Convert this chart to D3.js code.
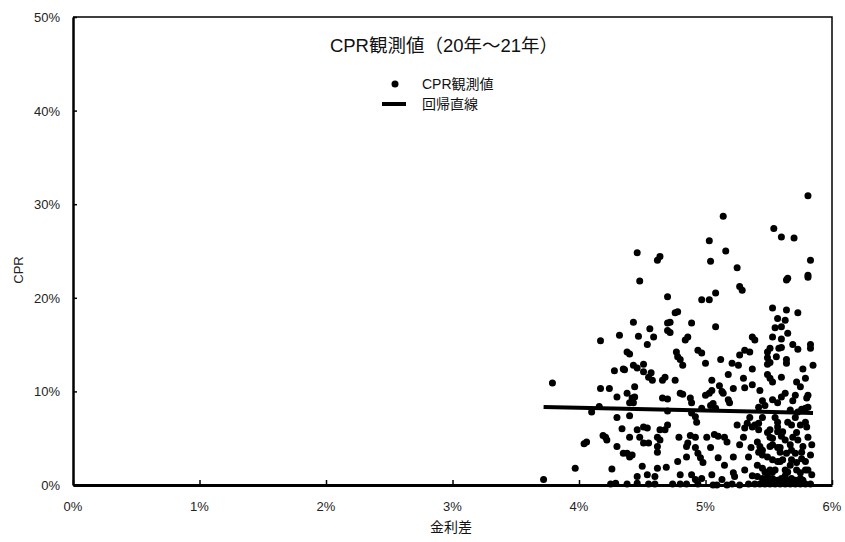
<!DOCTYPE html>
<html>
<head>
<meta charset="utf-8">
<script src="https://cdn.jsdelivr.net/npm/d3@7"></script>
<style>
  html, body { margin: 0; padding: 0; background: #fff; }
  svg { display: block; }
  .tick-label { font-family: "Liberation Sans", Arial, sans-serif; font-size: 13px; fill: #222; }
  .jp { font-family: "Liberation Sans", "Noto Sans CJK JP", "Noto Sans", sans-serif; fill: #111; }
</style>
</head>
<body>
<script>
// Rate spread (%) and observed CPR (%) per loan pool, 2020–2021
const spread = [
  3.72,3.79,3.97,4.04,4.06,4.10,4.16,4.17,4.24,4.17,
  4.32,4.28,4.35,4.30,4.30,4.34,4.19,4.21,4.22,4.30,4.35,4.26,4.25,4.29,
  4.46,4.62,4.64,4.48,4.70,4.76,4.78,4.70,4.72,4.89,4.43,4.70,4.72,4.47,4.56,4.59,
  4.54,4.84,4.86,4.38,4.40,4.77,4.78,4.80,4.82,4.43,4.46,4.51,4.36,4.51,4.57,4.58,
  4.55,4.66,4.68,4.76,4.44,4.38,4.42,4.44,4.66,4.70,4.80,4.82,4.88,4.40,4.43,4.70,
  4.89,4.40,4.46,4.51,4.54,4.70,4.68,4.64,4.40,4.48,4.51,4.55,4.62,4.64,4.79,4.88,
  4.86,4.85,4.62,4.62,4.38,4.40,4.42,4.78,4.85,4.50,4.62,4.69,4.46,4.54,4.60,4.80,
  4.89,4.38,4.46,4.55,4.60,4.74,4.80,4.85,
  5.14,5.03,5.16,5.04,5.25,5.27,5.29,5.08,4.97,5.03,5.08,5.37,5.39,4.94,4.97,5.31,
  5.35,5.00,5.12,5.27,5.21,5.26,5.37,5.18,5.30,5.05,5.37,5.31,5.11,5.13,5.14,5.22,
  5.05,5.03,5.00,5.18,5.19,4.89,4.97,5.04,5.06,5.08,4.92,4.93,5.35,5.33,5.31,4.92,
  5.01,5.07,5.10,5.15,5.17,5.30,4.92,4.94,4.96,4.98,5.10,5.22,5.34,5.05,4.92,4.97,
  5.22,5.23,5.13,5.37,5.41,4.94,5.06,5.09,5.17,5.21,5.27,5.34,5.39,
  5.81,5.54,5.60,5.70,5.83,5.64,5.65,5.81,5.81,5.53,5.64,5.57,5.63,5.73,5.55,5.60,
  5.65,5.53,5.60,5.51,5.49,5.58,5.60,5.69,5.73,5.83,5.83,5.49,5.51,5.49,5.56,5.64,
  5.64,5.85,5.77,5.49,5.51,5.53,5.60,5.79,5.72,5.75,5.63,5.60,5.81,5.80,5.45,5.47,
  5.42,5.53,5.57,5.69,5.73,5.76,5.79,5.81,5.45,5.42,5.39,5.55,5.57,5.57,5.65,5.68,
  5.71,5.79,5.80,5.49,5.51,5.53,5.61,5.60,5.72,5.69,5.41,5.43,5.45,5.42,5.53,5.57,
  5.59,5.67,5.68,5.71,5.77,5.76,5.84,5.49,5.53,5.59,5.68,5.76,5.79,5.45,5.47,5.51,
  5.53,5.55,5.63,5.65,5.72,5.75,5.79,5.81,5.45,5.49,5.53,5.57,5.60,5.64,5.68,5.71,
  5.75,5.77,5.43,5.47,5.51,5.55,5.59,5.63,5.67,5.71,5.75,5.79,5.83,
  5.51,5.57,5.63,5.59,5.51,5.64,5.61,5.57,5.45,5.36,5.37,5.42,5.73,5.81,5.83,5.72,
  5.63,5.67,5.84,5.49,5.41,5.31,5.27,5.25,5.43,5.71,5.75,5.67,5.04,5.15
];
const cpr = [
  0.6,10.9,1.8,4.4,4.6,7.8,8.4,10.3,10.3,15.4,
  16.0,12.2,12.4,9.4,7.2,6.0,5.3,5.1,4.8,4.1,3.4,1.7,0.1,0.2,
  24.8,24.0,24.4,21.8,20.1,18.4,18.5,17.3,17.4,17.3,17.4,16.5,16.3,15.9,16.7,15.8,
  15.0,15.5,15.8,14.2,14.0,14.2,13.7,13.4,12.8,12.8,12.5,12.9,12.3,12.1,12.0,11.2,
  11.5,11.2,11.5,11.2,10.5,9.8,9.3,9.4,9.3,9.2,9.8,9.7,9.3,8.8,8.8,7.9,
  7.7,7.4,5.9,6.2,6.1,6.4,5.9,5.9,5.1,5.1,4.5,4.5,5.1,4.8,5.1,5.3,
  4.5,4.1,4.1,3.5,3.4,3.0,3.2,2.5,3.0,2.0,1.8,1.9,0.9,1.1,0.9,1.1,
  1.1,0.1,0.2,0.1,0.1,0.1,0.1,0.1,
  28.7,26.1,25.0,23.9,23.2,21.2,20.8,20.5,19.8,19.8,16.9,15.8,15.5,14.4,14.1,14.4,
  14.2,13.0,13.4,13.9,13.0,12.8,12.4,11.8,11.4,11.2,10.7,10.4,10.6,10.0,9.8,10.3,
  10.1,9.8,9.6,9.1,8.8,8.8,8.2,8.5,8.7,8.2,7.3,6.7,7.2,6.6,6.1,5.1,
  5.1,5.4,5.2,5.1,4.6,5.1,4.0,3.4,2.9,2.4,2.9,3.0,3.0,1.1,0.6,0.7,
  1.3,0.9,0.6,1.0,0.9,0.1,0.0,0.0,0.0,0.1,0.0,0.1,0.1,
  30.9,27.4,26.5,26.4,24.0,21.9,22.1,22.4,22.2,18.9,18.7,17.8,17.6,18.4,16.8,16.9,
  16.2,15.8,15.6,14.6,14.2,14.6,14.7,15.0,14.5,15.0,14.6,13.6,13.1,12.9,13.7,13.4,
  13.0,12.8,12.4,11.8,11.4,11.0,11.5,11.4,11.0,10.5,9.8,9.4,9.6,9.3,9.0,8.5,
  8.3,9.1,8.8,9.0,7.8,8.1,8.2,8.3,7.2,6.6,6.4,7.2,6.7,6.2,6.7,6.4,
  7.2,6.7,6.2,5.6,5.1,5.0,5.7,5.2,5.6,5.1,4.6,4.1,3.7,3.5,4.3,4.0,
  3.5,4.3,3.7,3.4,4.1,3.5,4.3,3.0,2.7,2.5,2.7,2.8,2.5,1.8,1.4,1.6,
  1.4,1.6,1.6,1.4,1.6,1.3,1.6,1.6,0.7,0.5,0.7,0.5,0.7,0.5,0.7,0.5,
  0.7,0.5,0.1,0.1,0.1,0.1,0.1,0.1,0.1,0.1,0.1,0.1,0.1,
  5.9,5.7,4.8,4.0,4.1,3.4,2.7,2.5,3.2,4.0,6.2,5.9,4.8,5.1,3.2,2.4,
  1.0,2.1,1.1,1.1,2.1,1.6,4.3,6.4,10.1,9.6,6.4,8.0,4.0,2.1
];

// Fitted regression line, endpoints at the min / max spread
const regSpread = [3.72, 5.85];
const regCpr = [8.33, 7.70];

const xTicks = [0, 1, 2, 3, 4, 5, 6];
const yTicks = [0, 10, 20, 30, 40, 50];

const titleText = "CPR観測値（20年～21年）";
const legendLabels = ["CPR観測値", "回帰直線"];
const xAxisTitle = "金利差";
const yAxisTitle = "CPR";

const W = 845, H = 542;
const margin = { top: 17, right: 13, bottom: 57, left: 73 };
const iw = W - margin.left - margin.right;
const ih = H - margin.top - margin.bottom;

const svg = d3.select("body").append("svg").attr("width", W).attr("height", H);
const g = svg.append("g").attr("transform", `translate(${margin.left},${margin.top})`);

const x = d3.scaleLinear().domain([0, 6]).range([0, iw]);
const y = d3.scaleLinear().domain([0, 50]).range([ih, 0]);

// top and right frame edges
g.append("path")
  .attr("d", `M0,0H${iw}V${ih}`)
  .attr("fill", "none").attr("stroke", "#000").attr("stroke-width", 1.5);

// axes with inward ticks, labels drawn separately
const xAxis = g.append("g").attr("transform", `translate(0,${ih})`)
  .call(d3.axisBottom(x).tickValues(xTicks).tickSizeInner(-5).tickSizeOuter(0).tickFormat(""));
xAxis.select(".domain").attr("stroke-width", 3);
xAxis.selectAll(".tick line").attr("stroke-width", 1.5);

const yAxis = g.append("g")
  .call(d3.axisLeft(y).tickValues(yTicks).tickSizeInner(-4).tickSizeOuter(0).tickFormat(""));
yAxis.select(".domain").attr("stroke-width", 2.5);
yAxis.selectAll(".tick line").attr("stroke-width", 1.5);

g.selectAll(".xl").data(xTicks).join("text")
  .attr("class", "tick-label")
  .attr("x", d => x(d)).attr("y", ih + 26)
  .attr("text-anchor", "middle")
  .text(d => d + "%");

g.selectAll(".yl").data(yTicks).join("text")
  .attr("class", "tick-label")
  .attr("x", -13).attr("y", d => y(d) + 5)
  .attr("text-anchor", "end")
  .text(d => d + "%");

// observations
const pts = spread.map((s, i) => [s, cpr[i]]);
g.append("g").selectAll("circle").data(pts).join("circle")
  .attr("cx", d => x(d[0])).attr("cy", d => y(d[1]))
  .attr("r", 3.5).attr("fill", "#000");

// regression line
const line = d3.line().x(d => x(d[0])).y(d => y(d[1]));
g.append("path")
  .datum(regSpread.map((s, i) => [s, regCpr[i]]))
  .attr("d", line)
  .attr("fill", "none").attr("stroke", "#000").attr("stroke-width", 4);

// title
svg.append("text").attr("class", "jp")
  .attr("x", 444).attr("y", 52)
  .attr("text-anchor", "middle")
  .attr("font-size", 18.5)
  .text(titleText);

// legend
svg.append("circle").attr("cx", 395).attr("cy", 84).attr("r", 3.5).attr("fill", "#000");
svg.append("line").attr("x1", 382).attr("x2", 406).attr("y1", 104).attr("y2", 104)
  .attr("stroke", "#000").attr("stroke-width", 4);
svg.selectAll(".lg").data(legendLabels).join("text")
  .attr("class", "jp")
  .attr("x", 422).attr("y", (d, i) => 89 + i * 20)
  .attr("font-size", 14)
  .text(d => d);

// axis titles
svg.append("text").attr("class", "jp")
  .attr("x", 451).attr("y", 532)
  .attr("text-anchor", "middle").attr("font-size", 14)
  .text(xAxisTitle);

svg.append("text").attr("class", "tick-label")
  .attr("transform", "translate(23,270) rotate(-90)")
  .attr("text-anchor", "middle").attr("font-size", 13)
  .text(yAxisTitle);
</script>
</body>
</html>
